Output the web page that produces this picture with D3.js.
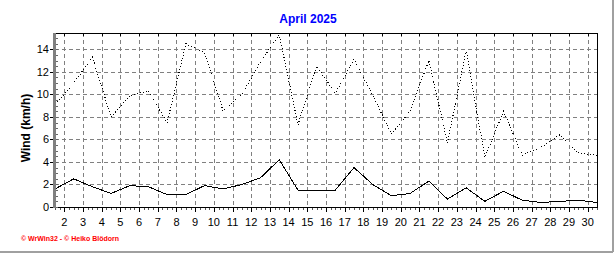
<!DOCTYPE html>
<html lang="en">
<head>
<meta charset="utf-8">
<script type="text/javascript" src="https://cdnjs.cloudflare.com/ajax/libs/d3/7.8.5/d3.min.js"></script>
<style>
body { margin: 0; background: #fff; }
svg text { font-family: "Liberation Sans", Arial, sans-serif; }
svg line, svg path { shape-rendering: crispEdges; }
</style>
</head>
<body>
<script type="text/javascript">
    // April 2025, values per day
    var days = d3.range(1, 31)
    var windAvg = [1.6, 2.5, 1.8, 1.2, 1.9, 1.8, 1.1, 1.1, 1.9, 1.6,
                   2.0, 2.6, 4.2, 1.5, 1.5, 1.5, 3.5, 2.0, 1.0, 1.2,
                   2.3, 0.7, 1.7, 0.5, 1.4, 0.6, 0.4, 0.5, 0.6, 0.4]
    var windMax = [9.1, 11.0, 13.3, 8.0, 9.9, 10.3, 7.5, 14.5, 13.7, 8.5,
                   10.0, 12.9, 15.3, 7.3, 12.5, 10.1, 13.1, 9.9, 6.5, 8.5,
                   13.0, 5.7, 13.9, 4.4, 8.5, 4.6, 5.3, 6.4, 4.8, 4.6]
    var dayLabels = d3.range(2, 31)
    var yTicks = [0, 2, 4, 6, 8, 10, 12, 14]

    var w = 616
    var h = 253
    // plot area edges (note: "top" is reserved by the window)
    var pLeft = 55, pRight = 597, pTop = 33, pBottom = 207

    var svg = d3.select("body").append("svg")
                .attr("width", w)
                .attr("height", h)

    var x = d3.scaleLinear().domain([1, 30]).range([pLeft, pRight])
    var y = d3.scaleLinear().domain([0, 15.45]).range([pBottom, pTop])

    // outer panel border
    svg.append("line").attr("x1", 612.5).attr("x2", 612.5).attr("y1", 0).attr("y2", 251.5)
        .attr("stroke", "#a0a0a0").attr("stroke-width", 2)
    svg.append("line").attr("x1", 0).attr("x2", 613).attr("y1", 251.5).attr("y2", 251.5)
        .attr("stroke", "#a0a0a0").attr("stroke-width", 2)

    // grid
    svg.selectAll("line.hgrid")
        .data(yTicks.slice(1))
        .enter().append("line")
        .attr("class", "hgrid")
        .attr("x1", pLeft).attr("x2", pRight)
        .attr("y1", function(d) { return Math.round(y(d)) + 0.5 })
        .attr("y2", function(d) { return Math.round(y(d)) + 0.5 })
        .attr("stroke", "#808080")
        .attr("stroke-dasharray", "4,3")

    svg.selectAll("line.vgrid")
        .data(dayLabels)
        .enter().append("line")
        .attr("class", "vgrid")
        .attr("x1", function(d) { return Math.round(x(d - 0.5)) + 0.5 })
        .attr("x2", function(d) { return Math.round(x(d - 0.5)) + 0.5 })
        .attr("y1", pTop).attr("y2", pBottom)
        .attr("stroke", "#808080")
        .attr("stroke-dasharray", "4,3")

    // top ticks
    svg.selectAll("line.ttick")
        .data(dayLabels)
        .enter().append("line")
        .attr("class", "ttick")
        .attr("x1", function(d) { return Math.round(x(d - 0.5)) + 0.5 })
        .attr("x2", function(d) { return Math.round(x(d - 0.5)) + 0.5 })
        .attr("y1", pTop).attr("y2", pTop + 3)
        .attr("stroke", "#000")

    // frame top and right
    svg.append("path")
        .attr("d", "M" + pLeft + "," + (pTop + 0.5) + "H" + (pRight + 0.5) + "V" + pBottom)
        .attr("fill", "none")
        .attr("stroke", "#000")

    // lines
    var line = d3.line()
        .x(function(d, i) { return x(days[i]) })
        .y(function(d) { return y(d) })

    svg.append("path")
        .datum(windMax)
        .attr("d", line)
        .attr("fill", "none")
        .attr("stroke", "#000")
        .attr("stroke-dasharray", "1,2")

    svg.append("path")
        .datum(windAvg)
        .attr("d", line)
        .attr("fill", "none")
        .attr("stroke", "#000")

    // x axis: minor ticks every 6 hours
    var minor = []
    for (var t = 1; t <= 30.001; t += 0.25) minor.push(t)
    svg.selectAll("line.xminor")
        .data(minor)
        .enter().append("line")
        .attr("class", "xminor")
        .attr("x1", function(d) { return Math.round(x(d)) + 0.5 })
        .attr("x2", function(d) { return Math.round(x(d)) + 0.5 })
        .attr("y1", pBottom).attr("y2", pBottom + 3)
        .attr("stroke", "#555")

    svg.selectAll("line.xmajor")
        .data(dayLabels)
        .enter().append("line")
        .attr("class", "xmajor")
        .attr("x1", function(d) { return Math.round(x(d - 0.5)) + 0.5 })
        .attr("x2", function(d) { return Math.round(x(d - 0.5)) + 0.5 })
        .attr("y1", pBottom).attr("y2", pBottom + 5)
        .attr("stroke", "#000")

    svg.append("line")
        .attr("x1", pLeft).attr("x2", pRight + 1)
        .attr("y1", pBottom + 0.5).attr("y2", pBottom + 0.5)
        .attr("stroke", "#000")

    svg.selectAll("text.xlab")
        .data(dayLabels)
        .enter().append("text")
        .attr("class", "xlab")
        .text(function(d) { return d })
        .attr("x", function(d) { return x(d - 0.5) })
        .attr("y", 226)
        .attr("text-anchor", "middle")
        .attr("font-size", "11px")
        .attr("fill", "#000")

    // y axis
    var yMinor = d3.range(0, 15.5, 0.5)
    svg.selectAll("line.yminor")
        .data(yMinor)
        .enter().append("line")
        .attr("class", "yminor")
        .attr("x1", pLeft + 1).attr("x2", pLeft + 3)
        .attr("y1", function(d) { return Math.round(y(d)) + 0.5 })
        .attr("y2", function(d) { return Math.round(y(d)) + 0.5 })
        .attr("stroke", "#666")

    svg.append("line")
        .attr("x1", pLeft - 0.5).attr("x2", pLeft - 0.5)
        .attr("y1", pTop).attr("y2", pBottom + 1)
        .attr("stroke", "#808080")
        .attr("stroke-width", 3)

    svg.selectAll("line.ytick")
        .data(yTicks)
        .enter().append("line")
        .attr("class", "ytick")
        .attr("x1", pLeft - 5).attr("x2", pLeft - 2)
        .attr("y1", function(d) { return Math.round(y(d)) + 0.5 })
        .attr("y2", function(d) { return Math.round(y(d)) + 0.5 })
        .attr("stroke", "#000")

    svg.selectAll("text.ylab")
        .data(yTicks)
        .enter().append("text")
        .attr("class", "ylab")
        .text(function(d) { return d })
        .attr("x", 49)
        .attr("y", function(d) { return y(d) + 4 })
        .attr("text-anchor", "end")
        .attr("font-size", "11px")
        .attr("fill", "#000")

    svg.append("text")
        .text("Wind  (km/h)")
        .attr("transform", "translate(30,128) rotate(-90)")
        .attr("text-anchor", "middle")
        .attr("font-size", "12px")
        .attr("font-weight", "bold")
        .attr("fill", "#000")

    // title
    svg.append("text")
        .text("April 2025")
        .attr("x", 308)
        .attr("y", 23)
        .attr("text-anchor", "middle")
        .attr("font-size", "12px")
        .attr("font-weight", "bold")
        .attr("fill", "#0000ff")

    // credits
    svg.append("text")
        .text("\u00a9 WrWin32  -  \u00a9 Heiko Bl\u00f6dorn")
        .attr("x", 21)
        .attr("y", 241)
        .attr("font-size", "7px")
        .attr("font-weight", "bold")
        .attr("fill", "#ff0000")
</script>
</body>
</html>
